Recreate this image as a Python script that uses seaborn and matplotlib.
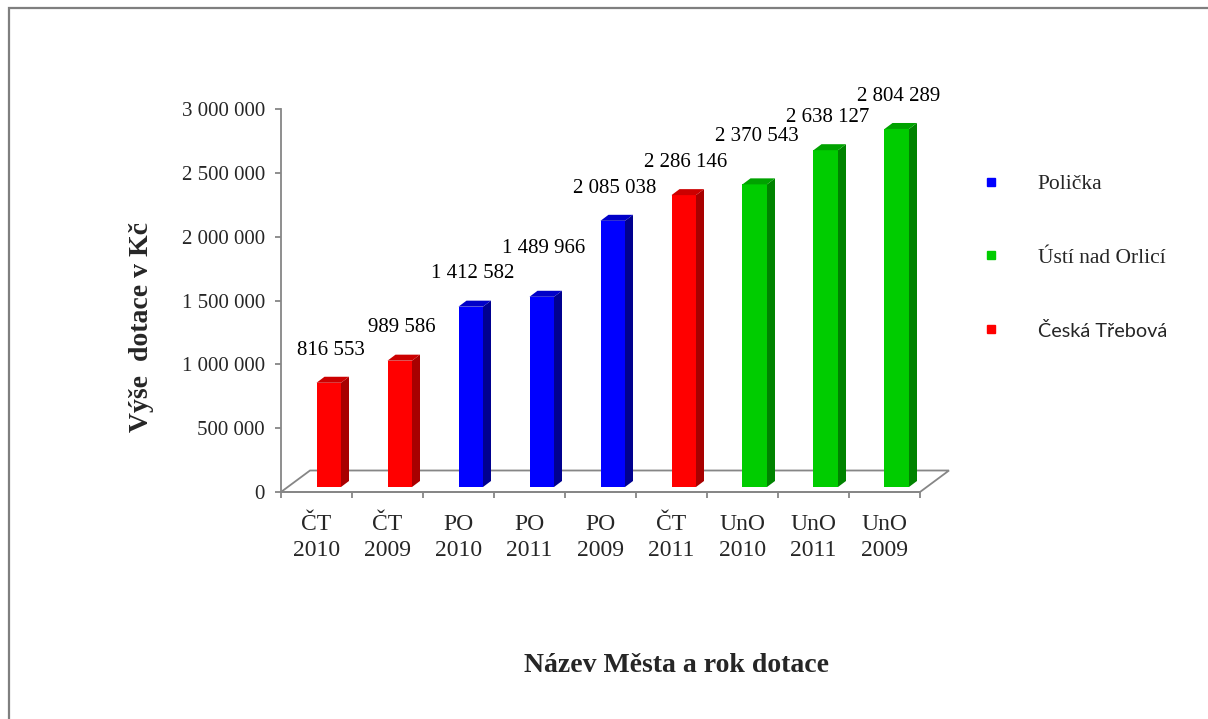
import matplotlib
matplotlib.use('Agg')
import matplotlib.pyplot as plt
import seaborn as sns
import pandas as pd
from matplotlib.patches import Polygon, Rectangle
from matplotlib.lines import Line2D

# data
kategorie = ['ČT\n2010', 'ČT\n2009', 'PO\n2010', 'PO\n2011', 'PO\n2009',
             'ČT\n2011', 'UnO\n2010', 'UnO\n2011', 'UnO\n2009']
mesta = ['Česká Třebová', 'Česká Třebová', 'Polička', 'Polička', 'Polička',
         'Česká Třebová', 'Ústí nad Orlicí', 'Ústí nad Orlicí', 'Ústí nad Orlicí']
dotace = [816553, 989586, 1412582, 1489966, 2085038,
          2286146, 2370543, 2638127, 2804289]
poradi_legendy = ['Polička', 'Ústí nad Orlicí', 'Česká Třebová']
y_ticks = [0, 500000, 1000000, 1500000, 2000000, 2500000, 3000000]

barvy = {'Polička': '#0000FF', 'Ústí nad Orlicí': '#00CC00', 'Česká Třebová': '#FF0000'}
bok = {'Polička': '#00008F', 'Ústí nad Orlicí': '#008300', 'Česká Třebová': '#A80000'}
vrch = {'Polička': '#0000C8', 'Ústí nad Orlicí': '#00A200', 'Česká Třebová': '#CC0000'}

df = pd.DataFrame({'kategorie': kategorie, 'mesto': mesta, 'dotace': dotace})

sns.set_style('white')
plt.rcParams['font.family'] = ['Liberation Serif', 'DejaVu Serif']
seda = '#868686'

fig = plt.figure(figsize=(12.08, 7.19), dpi=100)
ax = fig.add_axes([281 / 1208, 1 - 492 / 719, 639 / 1208, 383 / 719])

sirka = 0.345
sns.barplot(data=df, x='kategorie', y='dotace', hue='mesto', palette=barvy,
            dodge=False, width=sirka, legend=False, ax=ax, saturation=1,
            order=kategorie, zorder=3)

ax.set_xlim(-0.5, len(kategorie) - 0.5)
ax.set_ylim(0, 3000000)

# pixel -> data units
px_x = len(kategorie) / 639
px_y = 3000000 / 383
base = 5 * px_y
dx, dy = 8 * px_x, 6 * px_y

# floor of the 3D chart
fx, fy = 29 * px_x, 21.5 * px_y
x_lo, x_hi = ax.get_xlim()
floor = Polygon([(x_lo, 0), (x_hi, 0), (x_hi + fx, fy), (x_lo + fx, fy)],
                closed=True, facecolor='white', edgecolor=seda, lw=1.3,
                zorder=1, clip_on=False)
ax.add_patch(floor)

popisky = []
for p in list(ax.patches):
    if p is floor or p.get_height() <= 0:
        continue
    w = p.get_width()
    i = int(round(p.get_x() + w / 2))
    mesto = mesta[i]
    h = p.get_height()
    x0 = i
    x1 = x0 + w
    p.set_x(x0)
    p.set_y(base)
    p.set_edgecolor('none')
    top = base + h
    ax.add_patch(Polygon([(x1, base), (x1, top), (x1 + dx, top + dy), (x1 + dx, base + dy)],
                         closed=True, facecolor=bok[mesto], edgecolor='none', zorder=3))
    ax.add_patch(Polygon([(x0, top), (x1, top), (x1 + dx, top + dy), (x0 + dx, top + dy)],
                         closed=True, facecolor=vrch[mesto], edgecolor='none', zorder=3))
    t = ax.annotate(f'{dotace[i]:,.0f}'.replace(',', ' '),
                    xy=(x0 + w / 2 + 2 * px_x, top + dy), xytext=(0, 16),
                    textcoords='offset points', ha='center', va='baseline',
                    fontsize=15, color='black', annotation_clip=False)
    popisky.append((i, t))

# push a value label up when it would collide with its left neighbour
popisky.sort(key=lambda it: it[0])
renderer = fig.canvas.get_renderer()
pt = 100 / 72
cap = 0.66 * 15 * pt
prev = None
for i, t in popisky:
    bb = t.get_window_extent(renderer)
    baseline = ax.transData.transform(t.xy)[1] + t.xyann[1] * pt
    if prev is not None:
        px1, ptop = prev
        if bb.x0 < px1 - 1 and baseline < ptop + 2:
            shift = (ptop + 12) - baseline
            t.xyann = (0, t.xyann[1] + shift / pt)
            baseline += shift
    prev = (bb.x1, baseline + cap)

# axes styling
for s in ['top', 'right']:
    ax.spines[s].set_visible(False)
for s in ['left', 'bottom']:
    ax.spines[s].set_color(seda)
    ax.spines[s].set_linewidth(1.3)

ax.set_yticks(y_ticks)
ax.set_yticklabels([f'{v:,.0f}'.replace(',', ' ') for v in y_ticks])
ax.tick_params(axis='y', direction='out', length=4.5, width=1.3, color=seda,
               labelsize=15, pad=7, left=True)
ax.set_xticks(range(len(kategorie)))
ax.set_xticklabels(kategorie, linespacing=1.35)
ax.set_xticks([k - 0.5 for k in range(len(kategorie) + 1)], minor=True)
ax.tick_params(axis='x', which='major', length=0, labelsize=17, pad=15.5)
ax.tick_params(axis='x', which='minor', direction='out', length=4.5, width=1.3,
               color=seda, bottom=True)
ax.set_xlabel('')
ax.set_ylabel('')

fig.text(141 / 1208, 1 - 327 / 719, 'Výše  dotace v Kč', rotation=90,
         ha='center', va='center', fontsize=20, fontweight='bold')
fig.text(676 / 1208, 1 - 666 / 719, 'Název Města a rok dotace',
         ha='center', va='center', fontsize=20, fontweight='bold')

# legend
handles = [Line2D([0], [0], marker='s', linestyle='none', markersize=6,
                  markerfacecolor=barvy[m], markeredgecolor=barvy[m])
           for m in poradi_legendy]
leg = fig.legend(handles, poradi_legendy, loc='upper left',
                 bbox_to_anchor=(986 / 1208, 1 - 174 / 719), frameon=False,
                 fontsize=15.5, handlelength=0.5, handletextpad=1.9,
                 labelspacing=2.5, borderpad=0, borderaxespad=0)
leg.get_texts()[2].set_family(['Lato', 'DejaVu Sans'])
leg.get_texts()[2].set_fontsize(14.3)

# outer frame (only left and top edges fall inside the picture)
fig.patches.append(Rectangle((8.5 / 1208, -0.1), 1.2, 1.1 - 8.5 / 719,
                             transform=fig.transFigure, fill=False,
                             edgecolor='#7f7f7f', lw=1.6))

fig.savefig('out.png', dpi=100)
